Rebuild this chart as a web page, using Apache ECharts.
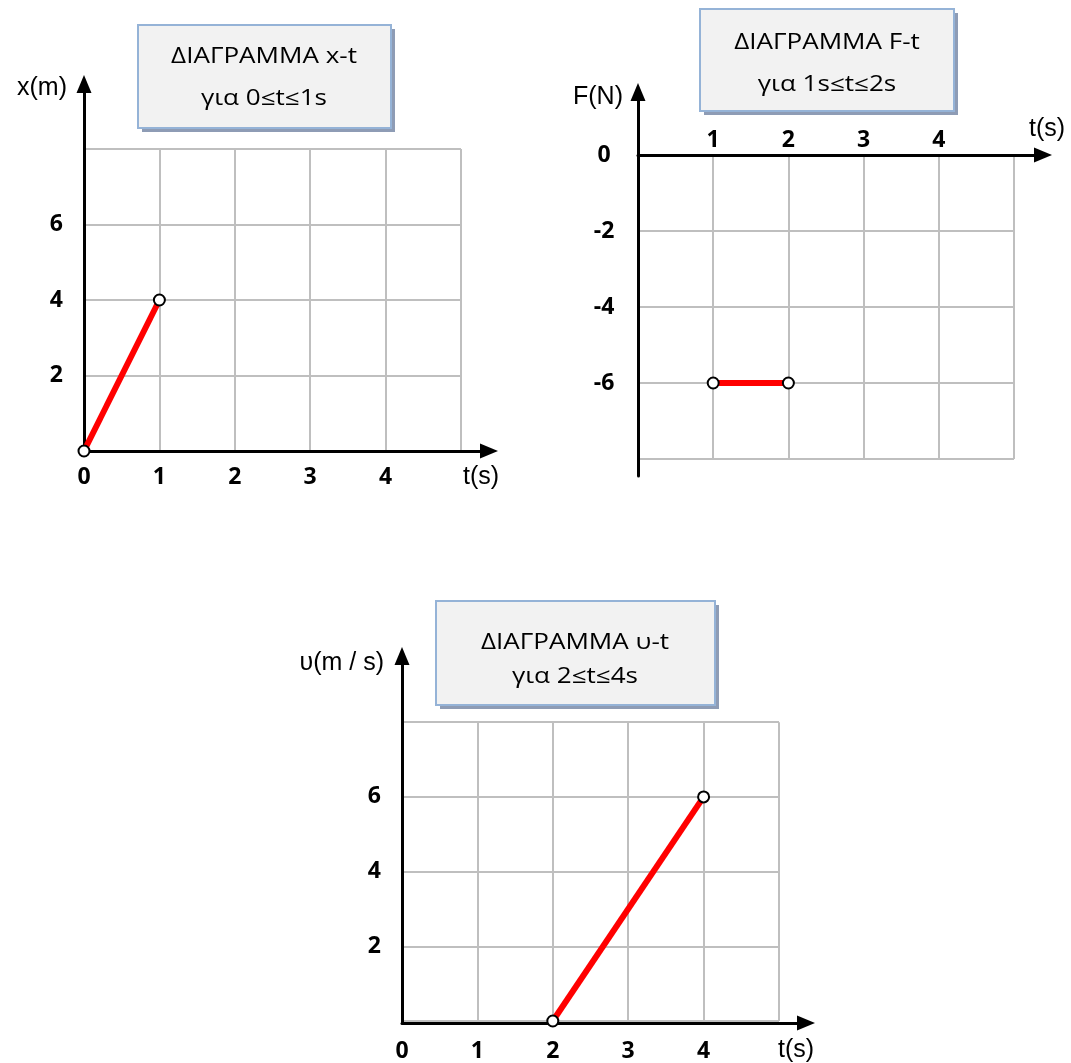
<!DOCTYPE html>
<html><head><meta charset="utf-8">
<script src="https://cdn.jsdelivr.net/npm/echarts@6/dist/echarts.min.js"></script>
<style>html,body{margin:0;padding:0;background:#fff}#c{width:1071px;height:1063px}</style>
</head><body><div id="c"></div>
<script>
// ---------- data ----------
const xtTime = [0, 1];
const xtPosition = [0, 4];
const ftTime = [1, 2];
const ftForce = [-6, -6];
const vtTime = [2, 4];
const vtVelocity = [0, 6];

const xtXTickLabels = ['0', '1', '2', '3', '4'];
const xtYTickLabels = ['2', '4', '6'];
const ftXTickLabels = ['1', '2', '3', '4'];
const ftYTickLabels = ['0', '-2', '-4', '-6'];
const vtXTickLabels = ['0', '1', '2', '3', '4'];
const vtYTickLabels = ['2', '4', '6'];

const xtTitle = ['ΔΙΑΓΡΑΜΜΑ x-t', 'για 0≤t≤1s'];
const ftTitle = ['ΔΙΑΓΡΑΜΜΑ F-t', 'για 1s≤t≤2s'];
const vtTitle = ['ΔΙΑΓΡΑΜΜΑ υ-t', 'για 2≤t≤4s'];
const xtAxisNames = ['t(s)', 'x(m)'];
const ftAxisNames = ['t(s)', 'F(N)'];
const vtAxisNames = ['t(s)', 'υ(m / s)'];

// ---------- layout ----------
const ARROW = [15, 18];
const panels = [
  { ox: 84, oy: 451, ux: 75.4, uy: 37.75, xr: [0, 5], yr: [0, 8], tipX: 498, tipY: 75, bottomPx: 451,
    xPos: 'bottom', xs: xtTime, ys: xtPosition, xl: xtXTickLabels, yl: xtYTickLabels, names: xtAxisNames,
    xMargin: 15, yMargin: 21, yAlign: 'right',
    xName: { gap: -8, style: { align: 'center', verticalAlign: 'top', padding: [14, 0, 0, 0] } },
    yName: { gap: -4, style: { align: 'right', verticalAlign: 'middle', padding: [0, 17, 0, 0] } },
    box: { L: 138, T: 25, W: 253, H: 103, cx: 264, y1: 57, y2: 99 }, title: xtTitle },
  { ox: 638, oy: 155, ux: 75.2, uy: 38, xr: [0, 5], yr: [-8, 0], tipX: 1052, tipY: 83, bottomPx: 476,
    xPos: 'top', xs: ftTime, ys: ftForce, xl: ftXTickLabels, yl: ftYTickLabels, names: ftAxisNames,
    xMargin: 3, yMargin: 34, yAlign: 'center',
    xName: { gap: 4, style: { align: 'center', verticalAlign: 'bottom', padding: [0, 0, 13, 0] } },
    yName: { gap: -5, style: { align: 'right', verticalAlign: 'middle', padding: [0, 15, 0, 0] } },
    box: { L: 700, T: 9, W: 254, H: 102, cx: 827, y1: 43, y2: 85 }, title: ftTitle },
  { ox: 402, oy: 1023, ux: 75.4, uy: 37.6, xr: [0, 5], yr: [0, 8], tipX: 815, tipY: 647, bottomPx: 1023,
    xPos: 'bottom', xs: vtTime, ys: vtVelocity, xl: vtXTickLabels, yl: vtYTickLabels, names: vtAxisNames,
    xMargin: 19, yMargin: 21, yAlign: 'right',
    xName: { gap: -10, style: { align: 'center', verticalAlign: 'top', padding: [15, 0, 0, 0] } },
    yName: { gap: -7, style: { align: 'right', verticalAlign: 'middle', padding: [0, 18, 0, 0] } },
    box: { L: 436, T: 601, W: 279, H: 104, cx: 575, y1: 643, y2: 677 }, title: vtTitle }
];

const grids = [], xAxes = [], yAxes = [], series = [], graphics = [];
const labelFont = { color: '#000', fontFamily: '"Open Sans"', fontWeight: 'bold', fontSize: 23 };
const nameFont = { color: '#000', fontFamily: '"Liberation Sans"', fontSize: 25 };
const splitStyle = { color: '#bfbfbf', width: 2 };

panels.forEach((p, k) => {
  const gA = 2 * k, gB = 2 * k + 1;
  // grid A: gridlines + tick labels + data
  grids.push({ left: p.ox + p.xr[0] * p.ux, top: p.oy - p.yr[1] * p.uy,
               width: (p.xr[1] - p.xr[0]) * p.ux, height: (p.yr[1] - p.yr[0]) * p.uy });
  // grid B: arrowed axes that extend beyond the gridlines
  const bxMax = (p.tipX - p.ox - ARROW[1] / 2) / p.ux;
  const byMax = (p.oy - p.tipY - ARROW[1] / 2) / p.uy;
  const byMin = -(p.bottomPx - p.oy) / p.uy;
  grids.push({ left: p.ox, top: p.oy - byMax * p.uy, width: bxMax * p.ux, height: (byMax - byMin) * p.uy });

  xAxes.push({ gridIndex: gA, type: 'value', min: p.xr[0], max: p.xr[1], interval: 1, position: p.xPos,
    axisLine: { show: false, onZero: false }, axisTick: { show: false },
    splitLine: { show: true, lineStyle: splitStyle },
    axisLabel: Object.assign({ margin: p.xMargin, formatter: v => p.xl.includes(String(v)) ? String(v) : '' }, labelFont) });
  yAxes.push({ gridIndex: gA, type: 'value', min: p.yr[0], max: p.yr[1], interval: 2,
    axisLine: { show: false, onZero: false }, axisTick: { show: false },
    splitLine: { show: true, lineStyle: splitStyle },
    axisLabel: Object.assign({ margin: p.yMargin, align: p.yAlign, formatter: v => p.yl.includes(String(v)) ? String(v) : '' }, labelFont) });

  const arrowLine = { show: true, onZero: true, symbol: ['none', 'triangle'], symbolSize: ARROW,
                      lineStyle: { color: '#000', width: 3 } };
  xAxes.push({ gridIndex: gB, type: 'value', min: 0, max: bxMax, z: 3,
    axisLine: arrowLine, axisTick: { show: false }, axisLabel: { show: false }, splitLine: { show: false },
    name: p.names[0], nameLocation: 'end', nameGap: p.xName.gap,
    nameTextStyle: Object.assign({}, nameFont, p.xName.style) });
  yAxes.push({ gridIndex: gB, type: 'value', min: byMin, max: byMax, z: 3,
    axisLine: arrowLine, axisTick: { show: false }, axisLabel: { show: false }, splitLine: { show: false },
    name: p.names[1], nameLocation: 'end', nameGap: p.yName.gap,
    nameTextStyle: Object.assign({}, nameFont, p.yName.style) });

  series.push({ type: 'line', xAxisIndex: gA, yAxisIndex: gA, clip: false, z: 5,
    data: p.xs.map((t, i) => [t, p.ys[i]]),
    lineStyle: { color: '#ff0000', width: 6 },
    symbol: 'circle', symbolSize: 11, showAllSymbol: true,
    itemStyle: { color: '#ffffff', borderColor: '#000', borderWidth: 2 } });

  const b = p.box;
  graphics.push({ type: 'rect', shape: { x: b.L + 4, y: b.T + 4, width: b.W, height: b.H },
                  style: { fill: '#8e9cb5' }, z: 10 });
  graphics.push({ type: 'rect', shape: { x: b.L, y: b.T, width: b.W, height: b.H },
                  style: { fill: '#f2f2f2', stroke: '#95b3d7', lineWidth: 2 }, z: 11 });
  [b.y1, b.y2].forEach((yy, i) => {
    graphics.push({ type: 'text', x: b.cx, y: yy, scaleX: 1.24, z: 12,
      style: { text: p.title[i], x: 0, y: 0, fill: '#000', font: '21px "Open Sans"',
               align: 'center', verticalAlign: 'middle', textAlign: 'center', textVerticalAlign: 'middle' } });
  });
});

const chart = echarts.init(document.getElementById('c'), null, { renderer: 'canvas' });
chart.setOption({
  animation: false,
  backgroundColor: '#ffffff',
  grid: grids, xAxis: xAxes, yAxis: yAxes, series: series, graphic: graphics
});
</script></body></html>
